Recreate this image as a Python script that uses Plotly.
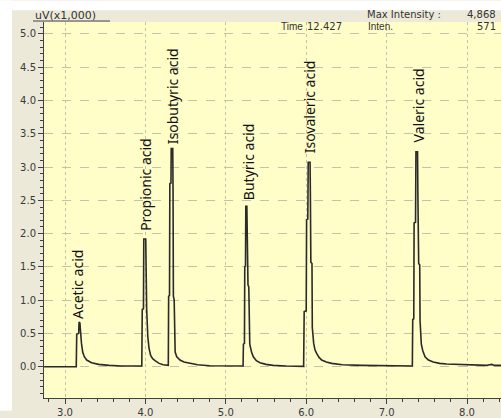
import plotly.graph_objects as go

# Chromatogram trace (retention time in min, signal in uV x1,000)
time = [2.74, 3.140, 3.146, 3.170, 3.175, 3.185, 3.205, 3.22, 3.24, 3.27, 3.33, 3.42, 3.55, 3.70,
        3.955, 3.961, 3.976, 3.980, 4.004, 4.008, 4.016, 4.030, 4.045, 4.065, 4.09, 4.12, 4.17, 4.22, 4.27,
        4.285, 4.289, 4.300, 4.304, 4.318, 4.321, 4.340, 4.344, 4.348, 4.358, 4.362, 4.37, 4.39, 4.43,
        4.48, 4.555, 4.65, 4.80, 5.00, 5.215,
        5.219, 5.232, 5.236, 5.245, 5.249, 5.262, 5.266, 5.276, 5.286, 5.298, 5.32, 5.342, 5.38, 5.425,
        5.50, 5.59, 5.75, 5.968,
        5.975, 6.000, 6.005, 6.020, 6.025, 6.048, 6.052, 6.058, 6.072, 6.076, 6.093, 6.11, 6.13, 6.16,
        6.193, 6.25, 6.317, 6.45, 6.69, 7.00, 7.320,
        7.325, 7.338, 7.342, 7.360, 7.365, 7.385, 7.389, 7.399, 7.412, 7.416, 7.432, 7.45, 7.478, 7.52,
        7.58, 7.66, 7.747, 8.00, 8.25, 8.28, 8.31, 8.34, 8.43]
signal = [0.00, 0.00, 0.49, 0.50, 0.67, 0.66, 0.35, 0.22, 0.15, 0.10, 0.06, 0.035, 0.02, 0.01,
          0.01, 0.86, 0.87, 1.92, 1.92, 1.45, 0.86, 0.45, 0.28, 0.17, 0.12, 0.09, 0.05, 0.03, 0.02,
          0.02, 1.06, 1.07, 2.75, 2.76, 3.28, 3.28, 2.60, 1.06, 1.00, 0.30, 0.22, 0.15, 0.10,
          0.07, 0.05, 0.03, 0.015, 0.01, 0.01,
          0.34, 0.35, 1.50, 1.52, 2.41, 2.41, 2.06, 1.23, 1.20, 0.34, 0.22, 0.15, 0.09, 0.06,
          0.035, 0.02, 0.01, 0.005,
          0.83, 0.84, 2.21, 2.22, 3.07, 3.07, 2.58, 1.57, 1.55, 0.59, 0.35, 0.25, 0.20, 0.14,
          0.10, 0.07, 0.05, 0.03, 0.02, 0.01, 0.01,
          0.71, 0.72, 2.16, 2.17, 3.23, 3.23, 2.60, 1.55, 1.53, 0.69, 0.34, 0.24, 0.15, 0.10,
          0.07, 0.05, 0.04, 0.025, 0.02, 0.03, 0.035, 0.02, 0.02]

# Peak labels
peak_names = ["Acetic acid", "Propionic acid", "Isobutyric acid", "Butyric acid",
              "Isovaleric acid", "Valeric acid"]
peak_times = [3.162, 4.000, 4.337, 5.276, 6.035, 7.390]
label_bases = [0.68, 2.01, 3.32, 2.48, 3.17, 3.34]

x_ticks = [3, 4, 5, 6, 7, 8]
x_tick_labels = ["3.0", "4.0", "5.0", "6.0", "7.0", "8.0"]

W, H = 501, 418
L, R, T, B = 44, 0, 22, 13
PW, PH = W - L - R, H - T - B


def px(xp):
    return (xp - L) / PW


def py(yp):
    return (H - B - yp) / PH


fig = go.Figure()
fig.add_trace(go.Scatter(x=time, y=signal, mode="lines",
                         line=dict(color="#2a2a2a", width=1.6), hoverinfo="skip",
                         showlegend=False))

annotations = []
for name, t, b in zip(peak_names, peak_times, label_bases):
    annotations.append(dict(x=t, y=b, xref="x", yref="y", text=name, textangle=-90,
                            showarrow=False, xanchor="center", yanchor="bottom",
                            font=dict(family="Noto Sans", size=14, color="#111111")))

for txt, xp, yp, fam, fs in [("uV(x1,000)", 34, 15, "DejaVu Sans", 11),
                             ("Max Intensity :", 366, 14, "DejaVu Sans", 10),
                             ("4,868", 466, 14, "DejaVu Sans", 10),
                             ("Time", 280, 27, "Liberation Sans", 10),
                             ("12.427", 306, 27, "DejaVu Sans", 10),
                             ("Inten.", 367, 27, "Liberation Sans", 10),
                             ("571", 476, 27, "DejaVu Sans", 10)]:
    annotations.append(dict(x=px(xp), y=py(yp), xref="paper", yref="paper", text=txt,
                            showarrow=False, xanchor="left", yanchor="middle", borderpad=0,
                            font=dict(family=fam, size=fs, color="#333333")))

shapes = [
    # white outer strips (left and top)
    dict(type="rect", xref="paper", yref="paper", x0=px(0), x1=px(12), y0=py(H), y1=py(0),
         fillcolor="white", line=dict(width=0), layer="above"),
    dict(type="rect", xref="paper", yref="paper", x0=px(0), x1=px(W), y0=py(10), y1=py(0),
         fillcolor="white", line=dict(width=0), layer="above"),
    # underline of the unit label
    dict(type="line", xref="paper", yref="paper", x0=px(33), x1=px(110), y0=py(21), y1=py(21),
         line=dict(color="#444444", width=1)),
]

tick_font = dict(family="DejaVu Sans", size=10, color="#3a3a3a")
grid_col = "#c4c2a8"

fig.update_layout(
    width=W, height=H, autosize=False,
    margin=dict(l=L, r=R, t=T, b=B, pad=0),
    paper_bgcolor="#ECE9D8", plot_bgcolor="#FFFDC8",
    annotations=annotations, shapes=shapes, showlegend=False,
    xaxis=dict(range=[3.0 - 21 / 80.4, 3.0 - 21 / 80.4 + PW / 80.4],
               tickvals=x_ticks, ticktext=x_tick_labels,
               ticks="outside", ticklen=5, tickcolor="#404040", tickwidth=1,
               minor=dict(dtick=0.2, tick0=3, ticks="outside", ticklen=3, tickcolor="#404040",
                          showgrid=False),
               showgrid=True, gridcolor=grid_col, griddash="dot", gridwidth=1,
               showline=True, linecolor="#404040", linewidth=1, zeroline=False,
               tickfont=tick_font, fixedrange=True),
    yaxis=dict(range=[-0.47, 5.18], dtick=0.5, tick0=0, tickformat=".1f",
               ticks="outside", ticklen=5, tickcolor="#404040", tickwidth=1,
               minor=dict(dtick=0.1, tick0=0, ticks="outside", ticklen=3, tickcolor="#404040",
                          showgrid=False),
               showgrid=True, gridcolor=grid_col, griddash="dash", gridwidth=1,
               showline=True, linecolor="#404040", linewidth=1, zeroline=False,
               tickfont=tick_font, fixedrange=True),
)

fig.write_html("out.html", config={"displayModeBar": False},
               post_script="document.body.style.margin='0';document.body.style.overflow='hidden';")
